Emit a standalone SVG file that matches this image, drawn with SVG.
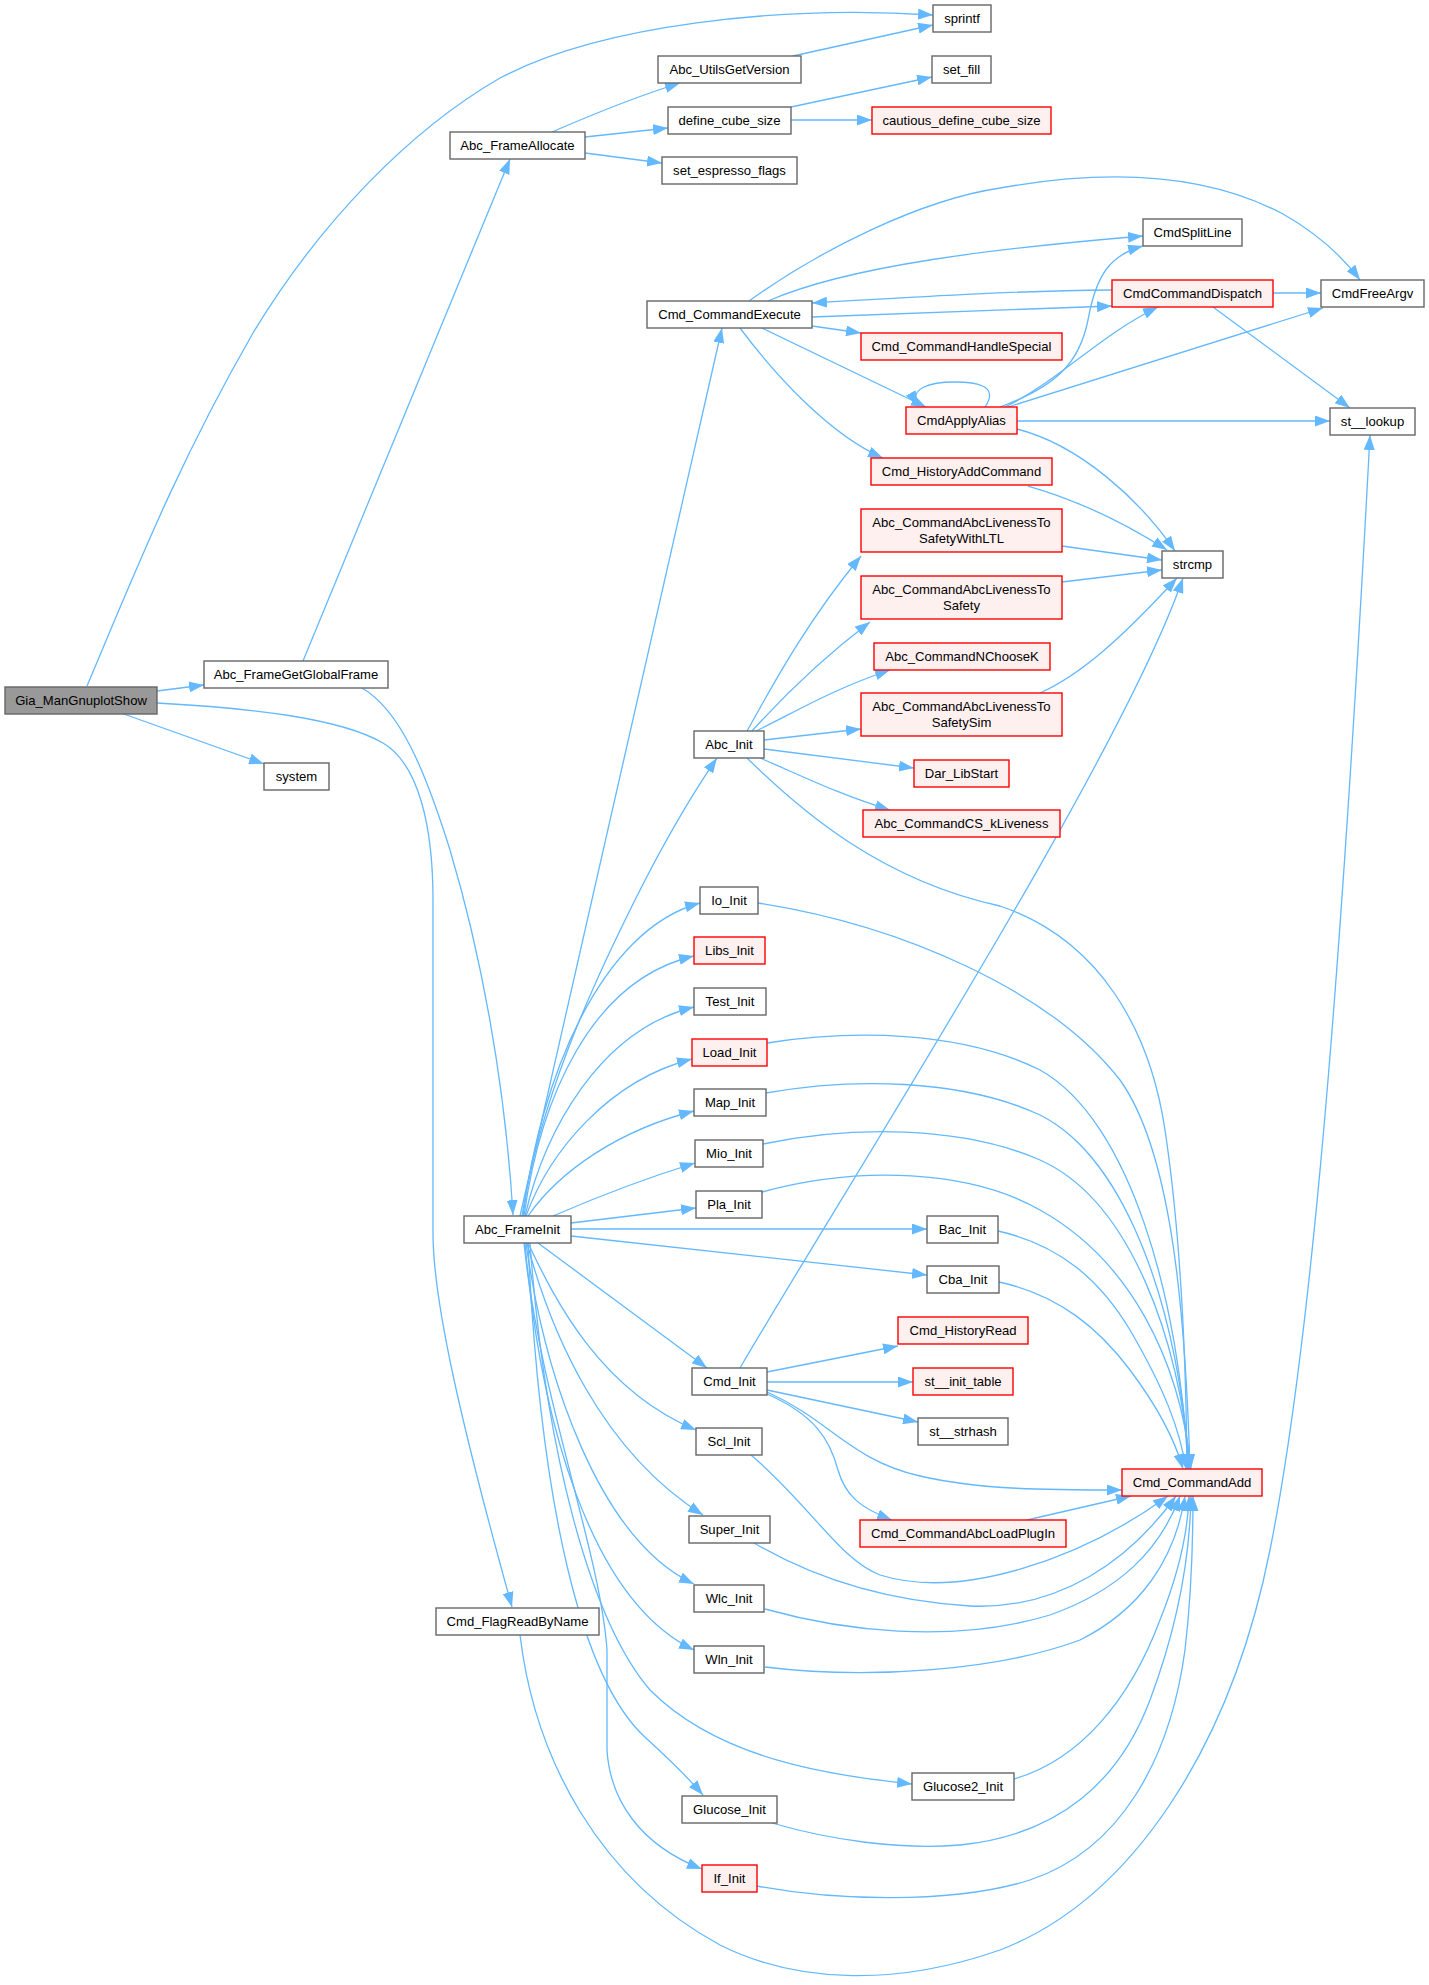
<svg xmlns="http://www.w3.org/2000/svg" width="1429" height="1985" viewBox="0 0 1429 1985">
<defs>
<style>
.n rect{fill:#ffffff;stroke:#666666;stroke-width:1.4}
.r rect{fill:#fff0f0;stroke:#ff0000;stroke-width:1.4}
.root rect{fill:#999999;stroke:#666666;stroke-width:1.4}
text{font-family:"Liberation Sans",Arial,sans-serif;font-size:13.1px;fill:#000000;text-anchor:middle}
#edges path{fill:none;stroke:#63b8ff;stroke-width:1.3;marker-end:url(#ah)}
</style>
<marker id="ah" markerUnits="userSpaceOnUse" markerWidth="16" markerHeight="11" refX="15" refY="5.5" orient="auto">
<path d="M0,0 L15,5.5 L0,11 z" fill="#63b8ff" stroke="none"/>
</marker>
</defs>
<rect width="1429" height="1985" fill="#ffffff"/>
<g id="edges">
<path d="M87,686 C140,560 180,460 253,333 C320,222 410,130 500,78 C600,25 780,5 933,15"/>
<path d="M157,691 L204,685"/>
<path d="M121,713 L264,764"/>
<path d="M157,703 C250,708 340,718 383,743 C420,765 433,830 433,900 L433,1233 C433,1300 460,1420 512,1607"/>
<path d="M303,661 L510,159"/>
<path d="M362,688 C400,710 425,770 450,850 C480,950 505,1080 513,1215"/>
<path d="M552,132 C580,120 625,100 680,83"/>
<path d="M585,137 L668,128"/>
<path d="M585,153 L662,163"/>
<path d="M793,56 L933,25"/>
<path d="M791,107 L932,77"/>
<path d="M791,120 L872,120"/>
<path d="M520,1216 L722,328"/>
<path d="M522,1216 C540,1100 590,990 635,900 C665,840 695,790 717,758"/>
<path d="M523,1216 C540,1080 600,930 700,903"/>
<path d="M524,1216 C540,1100 590,980 694,956"/>
<path d="M525,1216 C545,1130 600,1030 694,1007"/>
<path d="M526,1216 C550,1150 610,1080 692,1059"/>
<path d="M528,1216 C560,1170 620,1130 694,1111"/>
<path d="M553,1216 C590,1200 640,1180 695,1163"/>
<path d="M571,1223 L696,1208"/>
<path d="M571,1229 L927,1229"/>
<path d="M571,1236 L927,1275"/>
<path d="M538,1243 L707,1368"/>
<path d="M528,1243 C555,1300 600,1390 696,1430"/>
<path d="M527,1243 C550,1330 600,1450 703,1515"/>
<path d="M526,1243 C545,1380 600,1540 694,1584"/>
<path d="M525,1243 C540,1420 590,1600 694,1650"/>
<path d="M530,1243 C545,1450 590,1620 650,1690 C720,1760 830,1775 912,1784"/>
<path d="M528,1243 C540,1500 580,1680 647,1739 C670,1760 690,1780 703,1795"/>
<path d="M524,1243 C540,1400 600,1550 607,1650 L607,1750 C610,1800 640,1845 702,1869"/>
<path d="M749,301 C820,250 920,200 1000,188 C1100,170 1200,170 1283,214 C1320,235 1345,260 1360,280"/>
<path d="M768,301 C850,265 1000,248 1143,236"/>
<path d="M1112,290 C1000,291 900,298 812,303"/>
<path d="M812,317 C900,314 1000,311 1112,306"/>
<path d="M812,326 L861,333"/>
<path d="M762,328 L926,407"/>
<path d="M740,328 C775,375 830,435 883,458"/>
<path d="M985,407 C1000,385 975,382 955,382 C930,382 908,388 918,406"/>
<path d="M1000,407 C1060,385 1080,360 1088,320 C1096,275 1110,255 1143,246"/>
<path d="M1005,407 C1060,380 1100,335 1158,307"/>
<path d="M1008,407 L1323,308"/>
<path d="M1017,421 L1330,421"/>
<path d="M1017,429 C1080,445 1140,500 1175,551"/>
<path d="M1273,293 L1321,293"/>
<path d="M1213,307 L1350,408"/>
<path d="M1028,486 C1070,498 1120,520 1167,550"/>
<path d="M1062,546 L1162,560"/>
<path d="M1062,582 L1162,570"/>
<path d="M1040,693 C1080,675 1120,640 1177,578"/>
<path d="M747,731 C765,700 800,630 861,556"/>
<path d="M752,731 C780,700 820,660 870,622"/>
<path d="M756,731 C790,715 830,690 890,670"/>
<path d="M764,740 L861,729"/>
<path d="M764,749 L914,768"/>
<path d="M760,758 C800,775 840,795 890,810"/>
<path d="M747,758 C800,810 880,880 1000,906 C1100,940 1150,1030 1165,1130 C1180,1230 1186,1350 1187,1469"/>
<path d="M758,903 C900,925 1050,990 1120,1080 C1170,1150 1185,1300 1190,1469"/>
<path d="M767,1043 C850,1030 960,1030 1040,1070 C1130,1120 1180,1300 1188,1469"/>
<path d="M766,1093 C850,1078 960,1078 1040,1115 C1130,1160 1180,1320 1189,1469"/>
<path d="M763,1144 C850,1126 960,1125 1040,1160 C1130,1200 1180,1340 1190,1469"/>
<path d="M762,1192 C860,1165 970,1170 1040,1210 C1130,1260 1180,1360 1191,1469"/>
<path d="M998,1231 C1060,1245 1100,1280 1130,1330 C1165,1390 1180,1430 1186,1469"/>
<path d="M999,1282 C1060,1295 1100,1330 1130,1370 C1160,1410 1175,1440 1183,1469"/>
<path d="M740,1368 C850,1180 1120,760 1183,578"/>
<path d="M767,1372 L898,1346"/>
<path d="M767,1382 L913,1382"/>
<path d="M767,1390 L918,1422"/>
<path d="M767,1392 C830,1420 850,1460 920,1476 C980,1490 1050,1490 1122,1490"/>
<path d="M767,1394 C815,1415 830,1440 838,1470 C845,1495 860,1508 892,1520"/>
<path d="M1027,1520 L1131,1496"/>
<path d="M751,1455 C810,1505 840,1560 880,1575 C960,1600 1080,1560 1168,1496"/>
<path d="M754,1543 C800,1570 870,1600 970,1606 C1060,1610 1130,1560 1176,1496"/>
<path d="M765,1609 C840,1630 950,1645 1050,1615 C1120,1590 1160,1550 1180,1496"/>
<path d="M765,1667 C870,1680 1000,1670 1080,1640 C1140,1610 1175,1560 1185,1496"/>
<path d="M1014,1779 C1080,1760 1130,1700 1160,1620 C1180,1570 1188,1530 1189,1496"/>
<path d="M772,1823 C830,1840 900,1850 960,1845 C1060,1835 1120,1780 1150,1700 C1180,1620 1190,1550 1191,1496"/>
<path d="M757,1886 C830,1900 950,1905 1030,1880 C1120,1850 1170,1760 1185,1650 C1192,1590 1193,1540 1193,1496"/>
<path d="M520,1635 C535,1760 600,1880 720,1945 C800,1985 900,1985 1000,1950 C1130,1900 1230,1750 1270,1550 C1310,1350 1340,1000 1370,435"/>
</g>
<g id="Gia_ManGnuplotShow" class="root"><rect x="5" y="687" width="152" height="27"/><text x="81" y="705">Gia_ManGnuplotShow</text></g>
<g id="Abc_FrameGetGlobalFrame" class="n"><rect x="204" y="661" width="184" height="27"/><text x="296" y="679">Abc_FrameGetGlobalFrame</text></g>
<g id="system" class="n"><rect x="264" y="763" width="65" height="27"/><text x="296.5" y="781">system</text></g>
<g id="Cmd_FlagReadByName" class="n"><rect x="436" y="1608" width="163" height="27"/><text x="517.5" y="1626">Cmd_FlagReadByName</text></g>
<g id="Abc_FrameAllocate" class="n"><rect x="450" y="132" width="135" height="27"/><text x="517.5" y="150">Abc_FrameAllocate</text></g>
<g id="Abc_FrameInit" class="n"><rect x="464" y="1216" width="107" height="27"/><text x="517.5" y="1234">Abc_FrameInit</text></g>
<g id="Abc_UtilsGetVersion" class="n"><rect x="658" y="56" width="143" height="27"/><text x="729.5" y="74">Abc_UtilsGetVersion</text></g>
<g id="define_cube_size" class="n"><rect x="668" y="107" width="123" height="27"/><text x="729.5" y="125">define_cube_size</text></g>
<g id="set_espresso_flags" class="n"><rect x="662" y="157" width="135" height="27"/><text x="729.5" y="175">set_espresso_flags</text></g>
<g id="Cmd_CommandExecute" class="n"><rect x="647" y="301" width="165" height="27"/><text x="729.5" y="319">Cmd_CommandExecute</text></g>
<g id="Abc_Init" class="n"><rect x="694" y="731" width="70" height="27"/><text x="729" y="749">Abc_Init</text></g>
<g id="Io_Init" class="n"><rect x="700" y="887" width="58" height="27"/><text x="729" y="905">Io_Init</text></g>
<g id="Libs_Init" class="r"><rect x="694" y="937" width="71" height="27"/><text x="729.5" y="955">Libs_Init</text></g>
<g id="Test_Init" class="n"><rect x="694" y="988" width="72" height="27"/><text x="730" y="1006">Test_Init</text></g>
<g id="Load_Init" class="r"><rect x="692" y="1039" width="75" height="27"/><text x="729.5" y="1057">Load_Init</text></g>
<g id="Map_Init" class="n"><rect x="694" y="1089" width="72" height="27"/><text x="730" y="1107">Map_Init</text></g>
<g id="Mio_Init" class="n"><rect x="695" y="1140" width="68" height="27"/><text x="729" y="1158">Mio_Init</text></g>
<g id="Pla_Init" class="n"><rect x="696" y="1191" width="66" height="27"/><text x="729" y="1209">Pla_Init</text></g>
<g id="Cmd_Init" class="n"><rect x="692" y="1368" width="75" height="27"/><text x="729.5" y="1386">Cmd_Init</text></g>
<g id="Scl_Init" class="n"><rect x="696" y="1428" width="66" height="27"/><text x="729" y="1446">Scl_Init</text></g>
<g id="Super_Init" class="n"><rect x="689" y="1516" width="81" height="27"/><text x="729.5" y="1534">Super_Init</text></g>
<g id="Wlc_Init" class="n"><rect x="694" y="1585" width="70" height="27"/><text x="729" y="1603">Wlc_Init</text></g>
<g id="Wln_Init" class="n"><rect x="694" y="1646" width="70" height="27"/><text x="729" y="1664">Wln_Init</text></g>
<g id="Glucose_Init" class="n"><rect x="682" y="1796" width="95" height="27"/><text x="729.5" y="1814">Glucose_Init</text></g>
<g id="If_Init" class="r"><rect x="702" y="1865" width="55" height="27"/><text x="729.5" y="1883">If_Init</text></g>
<g id="sprintf" class="n"><rect x="933" y="5" width="58" height="27"/><text x="962" y="23">sprintf</text></g>
<g id="set_fill" class="n"><rect x="932" y="56" width="59" height="27"/><text x="961.5" y="74">set_fill</text></g>
<g id="cautious_define_cube_size" class="r"><rect x="872" y="107" width="179" height="27"/><text x="961.5" y="125">cautious_define_cube_size</text></g>
<g id="Cmd_CommandHandleSpecial" class="r"><rect x="861" y="333" width="201" height="27"/><text x="961.5" y="351">Cmd_CommandHandleSpecial</text></g>
<g id="CmdApplyAlias" class="r"><rect x="906" y="407" width="111" height="27"/><text x="961.5" y="425">CmdApplyAlias</text></g>
<g id="Cmd_HistoryAddCommand" class="r"><rect x="871" y="458" width="181" height="27"/><text x="961.5" y="476">Cmd_HistoryAddCommand</text></g>
<g id="Abc_CommandAbcLivenessToSafetyWithLTL" class="r"><rect x="861" y="509" width="201" height="43"/><text x="961.5" y="526.5">Abc_CommandAbcLivenessTo</text><text x="961.5" y="542.5">SafetyWithLTL</text></g>
<g id="Abc_CommandAbcLivenessToSafety" class="r"><rect x="861" y="576" width="201" height="43"/><text x="961.5" y="593.5">Abc_CommandAbcLivenessTo</text><text x="961.5" y="609.5">Safety</text></g>
<g id="Abc_CommandNChooseK" class="r"><rect x="874" y="643" width="176" height="27"/><text x="962" y="661">Abc_CommandNChooseK</text></g>
<g id="Abc_CommandAbcLivenessToSafetySim" class="r"><rect x="861" y="693" width="201" height="43"/><text x="961.5" y="710.5">Abc_CommandAbcLivenessTo</text><text x="961.5" y="726.5">SafetySim</text></g>
<g id="Dar_LibStart" class="r"><rect x="914" y="760" width="95" height="27"/><text x="961.5" y="778">Dar_LibStart</text></g>
<g id="Abc_CommandCS_kLiveness" class="r"><rect x="863" y="810" width="197" height="27"/><text x="961.5" y="828">Abc_CommandCS_kLiveness</text></g>
<g id="Bac_Init" class="n"><rect x="927" y="1216" width="71" height="27"/><text x="962.5" y="1234">Bac_Init</text></g>
<g id="Cba_Init" class="n"><rect x="927" y="1266" width="72" height="27"/><text x="963" y="1284">Cba_Init</text></g>
<g id="Cmd_HistoryRead" class="r"><rect x="898" y="1317" width="130" height="27"/><text x="963" y="1335">Cmd_HistoryRead</text></g>
<g id="st__init_table" class="r"><rect x="913" y="1368" width="100" height="27"/><text x="963" y="1386">st__init_table</text></g>
<g id="st__strhash" class="n"><rect x="918" y="1418" width="90" height="27"/><text x="963" y="1436">st__strhash</text></g>
<g id="Cmd_CommandAbcLoadPlugIn" class="r"><rect x="860" y="1520" width="206" height="27"/><text x="963" y="1538">Cmd_CommandAbcLoadPlugIn</text></g>
<g id="Glucose2_Init" class="n"><rect x="912" y="1773" width="102" height="27"/><text x="963" y="1791">Glucose2_Init</text></g>
<g id="CmdSplitLine" class="n"><rect x="1143" y="219" width="99" height="27"/><text x="1192.5" y="237">CmdSplitLine</text></g>
<g id="CmdCommandDispatch" class="r"><rect x="1112" y="280" width="161" height="27"/><text x="1192.5" y="298">CmdCommandDispatch</text></g>
<g id="strcmp" class="n"><rect x="1162" y="551" width="61" height="27"/><text x="1192.5" y="569">strcmp</text></g>
<g id="Cmd_CommandAdd" class="r"><rect x="1122" y="1469" width="140" height="27"/><text x="1192" y="1487">Cmd_CommandAdd</text></g>
<g id="CmdFreeArgv" class="n"><rect x="1321" y="280" width="103" height="27"/><text x="1372.5" y="298">CmdFreeArgv</text></g>
<g id="st__lookup" class="n"><rect x="1330" y="408" width="85" height="27"/><text x="1372.5" y="426">st__lookup</text></g>
</svg>
